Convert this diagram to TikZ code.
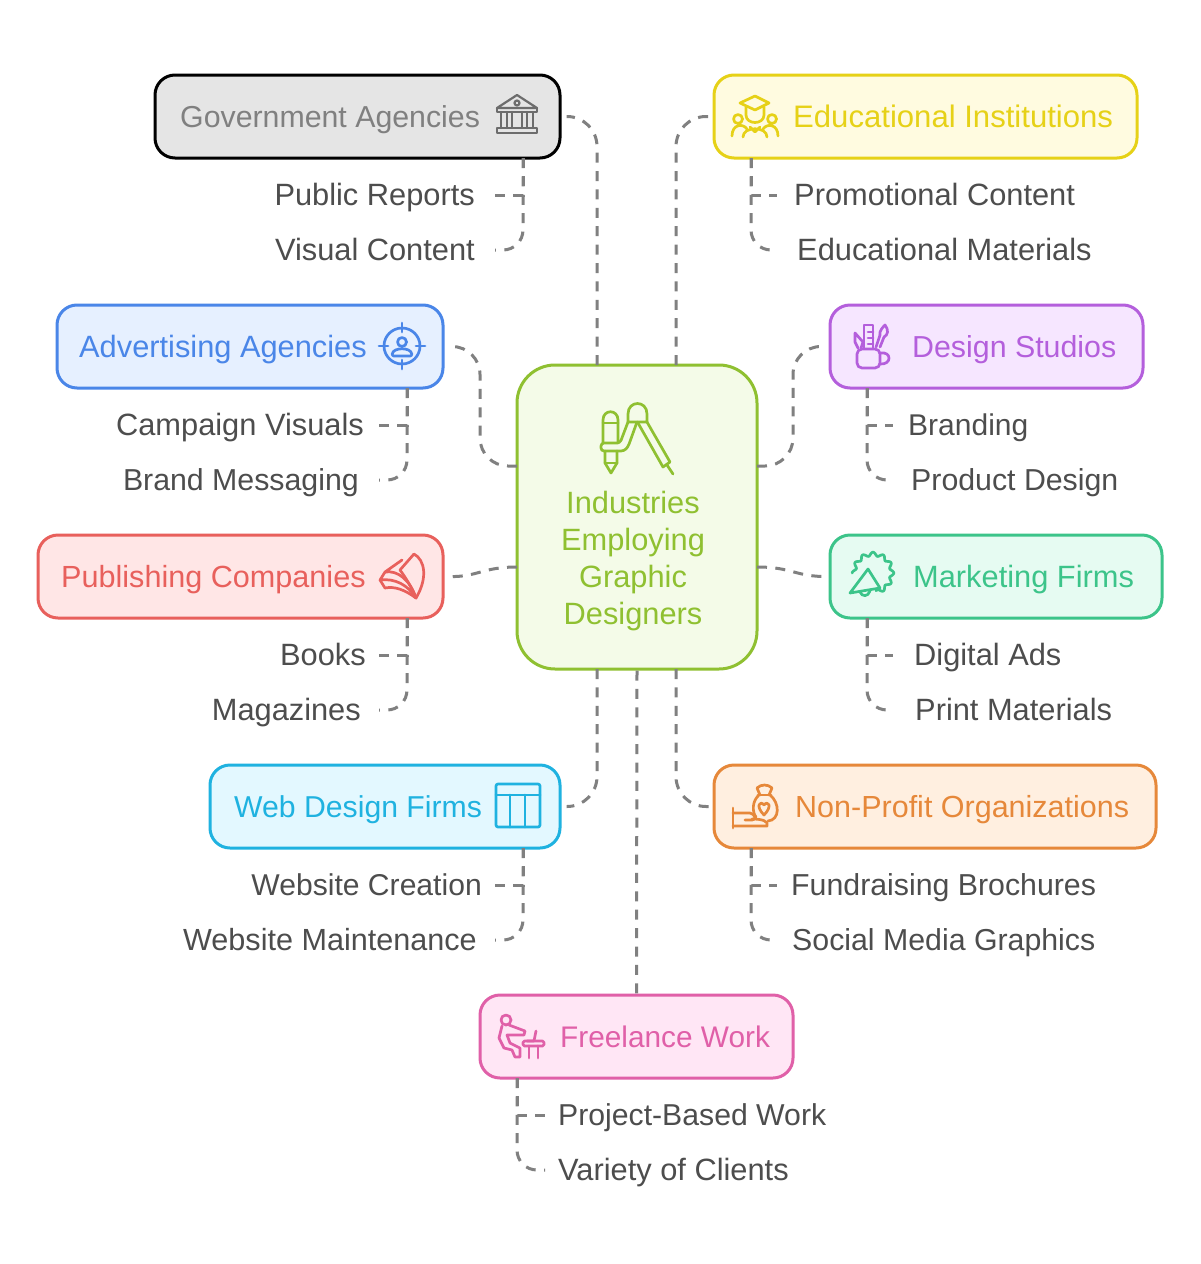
\documentclass[tikz,border=0pt]{standalone}
\usepackage{fontspec}
\setmainfont{Liberation Sans}
\definecolor{linkgrey}{HTML}{808080}
\definecolor{leafgrey}{HTML}{4D4D4D}
\definecolor{hubline}{HTML}{8FC031}
\definecolor{hubfill}{HTML}{F4FBE8}
\definecolor{govline}{HTML}{000000}
\definecolor{govfill}{HTML}{E5E5E5}
\definecolor{eduline}{HTML}{E6D117}
\definecolor{edufill}{HTML}{FFFBE0}
\definecolor{advline}{HTML}{4A86E8}
\definecolor{advfill}{HTML}{E6F0FF}
\definecolor{desline}{HTML}{B45FDC}
\definecolor{desfill}{HTML}{F6E6FF}
\definecolor{publine}{HTML}{E8605C}
\definecolor{pubfill}{HTML}{FFE6E6}
\definecolor{mktline}{HTML}{3CC48A}
\definecolor{mktfill}{HTML}{E6FBF2}
\definecolor{webline}{HTML}{1FB2E0}
\definecolor{webfill}{HTML}{E3F8FF}
\definecolor{nplline}{HTML}{E6883A}
\definecolor{nplfill}{HTML}{FFEFE0}
\definecolor{freline}{HTML}{E060A8}
\definecolor{frefill}{HTML}{FFE6F5}
\tikzset{
  catbox/.style={draw=#1line,fill=#1fill,line width=3pt,rounded corners=20pt,minimum height=83pt,inner sep=0pt},
  cattext/.style={anchor=base west,inner sep=0pt,text=#1line,font=\fontsize{30.8}{36}\selectfont},
  leaftext/.style={inner sep=0pt,text=leafgrey,text height=23pt,text depth=3pt,font=\fontsize{30.8}{36}\selectfont},
  fitsize/.style={font=\fontsize{#1}{36}\selectfont},
  link/.style={draw=linkgrey,line width=3pt,dash pattern=on 10pt off 8.4pt},
  iconpen/.style={draw=#1line,line width=2.7pt,line cap=round,line join=round},
}
\begin{document}
\begin{tikzpicture}[x=1pt,y=-1pt]
\useasboundingbox (0,0) rectangle (1200,1264);
\fill[white] (0,0) rectangle (1200,1264);
% boxes
\node[catbox=hub,minimum width=240pt,minimum height=304pt,rounded corners=38pt] (hub) at (637,517) {};
\node[catbox=gov,minimum width=405pt] (gov) at (357.5,116.5) {};
\node[catbox=edu,minimum width=423pt] (edu) at (925.5,116.5) {};
\node[catbox=adv,minimum width=386pt] (adv) at (250,346.5) {};
\node[catbox=des,minimum width=313pt] (des) at (986.5,346.5) {};
\node[catbox=pub,minimum width=405pt] (pub) at (240.5,576.5) {};
\node[catbox=mkt,minimum width=332pt] (mkt) at (996,576.5) {};
\node[catbox=web,minimum width=350pt] (web) at (385,806.5) {};
\node[catbox=npl,minimum width=442pt] (npl) at (935,806.5) {};
\node[catbox=fre,minimum width=313pt] (fre) at (636.5,1036.5) {};
% box texts
\node[cattext=gov,text=linkgrey,fitsize=30.3] (govtext) at (180,127) {Government Agencies};
\node[cattext=edu,fitsize=31.1] (edutext) at (793,127) {Educational Institutions};
\node[cattext=adv] (advtext) at (79,357) {Advertising Agencies};
\node[cattext=des,fitsize=30.35] (destext) at (912,357) {Design Studios};
\node[cattext=pub,fitsize=30.6] (pubtext) at (61,587) {Publishing Companies};
\node[cattext=mkt] (mkttext) at (913,587) {Marketing Firms};
\node[cattext=web,fitsize=30.2] (webtext) at (234,817) {Web Design Firms};
\node[cattext=npl,fitsize=30.5] (npltext) at (795,817) {Non-Profit Organizations};
\node[cattext=fre,fitsize=29.8] (fretext) at (560,1047) {Freelance Work};
\node[anchor=north,inner sep=0pt,text=hubline,align=center,font=\fontsize{30.8}{37}\selectfont] (hubtext) at (633,491) {Industries\\Employing\\Graphic\\Designers};
% leaves
\node[leaftext,anchor=east] (reports) at (475,195) {Public Reports};
\node[leaftext,anchor=east] (visual) at (475,250) {Visual Content};
\node[leaftext,anchor=west] (promo) at (794,195) {Promotional Content};
\node[leaftext,anchor=west] (materials) at (797,250) {Educational Materials};
\node[leaftext,anchor=east] (campaign) at (364,425) {Campaign Visuals};
\node[leaftext,anchor=east,fitsize=30.3] (message) at (359,480) {Brand Messaging};
\node[leaftext,anchor=west,fitsize=30] (branding) at (908,425) {Branding};
\node[leaftext,anchor=west,fitsize=30.3] (product) at (911,480) {Product Design};
\node[leaftext,anchor=east] (books) at (366,655) {Books};
\node[leaftext,anchor=east] (magazines) at (361,710) {Magazines};
\node[leaftext,anchor=west] (digital) at (914,655) {Digital Ads};
\node[leaftext,anchor=west] (print) at (915,710) {Print Materials};
\node[leaftext,anchor=east,fitsize=30.1] (creation) at (482,885) {Website Creation};
\node[leaftext,anchor=east,fitsize=30.6] (upkeep) at (477,940) {Website Maintenance};
\node[leaftext,anchor=west,fitsize=30.3] (fund) at (791,885) {Fundraising Brochures};
\node[leaftext,anchor=west,fitsize=30.3] (social) at (792,940) {Social Media Graphics};
\node[leaftext,anchor=west,fitsize=30.2] (project) at (558,1115) {Project-Based Work};
\node[leaftext,anchor=west] (clients) at (558,1170) {Variety of Clients};
% hub ports
\coordinate (hubnl) at (597,365);
\coordinate (hubnr) at (676,365);
\coordinate (hubsl) at (597,669);
\coordinate (hubsr) at (676,669);
\coordinate (hubwu) at (517,466);
\coordinate (hubeu) at (757,466);
\coordinate (hubwm) at (517,567);
\coordinate (hubem) at (757,567);
% hub to box
\draw[link,rounded corners=30pt,shorten >=5pt] (hubnl) |- (gov.east);
\draw[link,rounded corners=30pt,shorten >=4pt] (hubnr) |- (edu.west);
\draw[link,rounded corners=30pt,shorten >=5pt] (hubsl) |- (web.east);
\draw[link,rounded corners=30pt,shorten >=4pt] (hubsr) |- (npl.west);
\draw[link,rounded corners=28pt,shorten >=9pt] (hubwu) -- ++(-37,0) |- (adv.east);
\draw[link,rounded corners=28pt,shorten >=8pt] (hubeu) -- ++(36,0) |- (des.west);
\draw[link,shorten >=5pt] (hubwm) .. controls (482,567) and (478,577) .. (pub.east);
\draw[link] (hubem) .. controls (793,567) and (795,577) .. (mkt.west);
\draw[link] (hub.south) -- (fre.north);
% box to leaves
\foreach \drop/\tip/\one/\two/\side in {523/495/reports/visual/east,751/777/promo/materials/west,
  407/379/campaign/message/east,867/893/branding/product/west,407/379/books/magazines/east,
  867/893/digital/print/west,523/495/creation/upkeep/east,751/777/fund/social/west,517/545/project/clients/west} {
  \coordinate (dropx) at (\drop,0);
  \coordinate (tipx) at (\tip,0);
  \path (\one.\side) ++(0,-37) coordinate (dropbase);
  \coordinate (droptop) at (dropx |- dropbase);
  \coordinate (tipone) at (tipx |- \one.\side);
  \coordinate (tiptwo) at (tipx |- \two.\side);
  \draw[link] (droptop) |- (tipone);
  \draw[link,rounded corners=20pt] (droptop) |- (tiptwo);
}
% government icon
\begin{scope}[shift={(517,115)},iconpen=gov,draw=linkgrey!85!black,line width=2.2pt]
\draw (-20,-7) -- (0,-20) -- (20,-7) -- cycle;
\draw (0,-12) circle (2.5);
\draw (-20,-7) rectangle (20,-3);
\draw (-20,13) rectangle (20,18);
\foreach \x in {-16,-10,-5,5,10,16} {\draw (\x,-3) -- (\x,13);}
\end{scope}
% education icon
\begin{scope}[shift={(755,116)},iconpen=edu]
\draw (-15,-13) -- (0,-20) -- (14,-13) -- (0,-6) -- cycle;
\draw (-9,-9) -- (-9,-1) .. controls (-9,9) and (9,9) .. (9,-1) -- (9,-9);
\draw (-17,3) circle (4.5);
\draw (17,3) circle (4.5);
\draw (-23,20) .. controls (-23,8) and (-12,7) .. (-8,13);
\draw (23,20) .. controls (23,8) and (12,7) .. (8,13);
\draw (-12,21) .. controls (-12,10) and (12,10) .. (12,21);
\draw (-5,11) -- (0,16) -- (5,11);
\end{scope}
% advertising icon
\begin{scope}[shift={(402,346)},iconpen=adv]
\draw (0,0) circle (18);
\draw (0,-23) -- (0,-14);
\draw (0,23) -- (0,14);
\draw (-23,0) -- (-14,0);
\draw (23,0) -- (14,0);
\draw (0,-4) circle (4.5);
\draw[rounded corners=2pt] (-10,10) .. controls (-9,1) and (9,1) .. (10,10) -- cycle;
\end{scope}
% design studio icon
\begin{scope}[iconpen=des]
\draw[rounded corners=5pt] (857,349) -- (880,349) -- (880,368) -- (857,368) -- cycle;
\draw (880,353) .. controls (892,351) and (892,365) .. (880,364);
\draw (864,348) -- (864,325) -- (873,325) -- (873,348);
\draw (868,332) -- (873,332) (868,338) -- (873,338) (868,344) -- (873,344);
\draw (855,333) -- (863,342) -- (861,348) (855,333) -- (855,342) -- (858,348);
\draw (876,347) -- (880,335) (880,347) -- (884,337);
\draw (880,335) .. controls (879,331) and (883,327) .. (885,325) .. controls (889,330) and (888,335) .. (884,337);
\end{scope}
% publishing icon
\begin{scope}[iconpen=pub]
\draw (414,554) .. controls (425,560) and (428,578) .. (416,598);
\draw (414,554) -- (400,570) .. controls (406,578) and (412,588) .. (416,598);
\draw (402,560) -- (385,572) .. controls (398,570) and (410,580) .. (416,598);
\draw (385,572) -- (380,580) .. controls (395,578) and (408,585) .. (416,598);
\draw (380,580) -- (385,588) .. controls (395,586) and (405,590) .. (416,598);
\end{scope}
% marketing icon
\begin{scope}[iconpen=mkt]
\draw[shift={(873,573)}] plot[smooth,samples=130,domain=180:440] ({(19+1.8*cos(12*\x))*cos(\x)},{(19+1.8*cos(12*\x))*sin(\x)});
\draw (868,569) -- (880,588) -- (850,593) -- cycle;
\draw (860,592) .. controls (862,597) and (868,597) .. (870,591);
\end{scope}
% web icon
\begin{scope}[shift={(518,806)},iconpen=web]
\draw[rounded corners=2pt] (-22,-22) rectangle (22,21);
\draw (-22,-11) -- (22,-11);
\draw (-8,-11) -- (-8,21);
\draw (7,-11) -- (7,21);
\end{scope}
% non-profit icon
\begin{scope}[iconpen=npl]
\draw (733,808) -- (733,828);
\draw (733,813) -- (750,813) .. controls (755,814) and (757,820) .. (752,820) -- (745,820);
\draw (733,826) -- (767,826) .. controls (769,821) and (762,819) .. (752,819);
\draw (759,795) .. controls (752,801) and (752,812) .. (756,817);
\draw (770,795) .. controls (780,803) and (780,820) .. (768,821);
\draw (758,795) -- (771,795);
\draw (760,795) -- (757,788) .. controls (761,784) and (768,784) .. (772,788) -- (769,795);
\draw (764,805) .. controls (760,800) and (755,806) .. (764,815) .. controls (773,806) and (768,800) .. (764,805);
\end{scope}
% freelance icon
\begin{scope}[iconpen=fre]
\draw (506,1020) circle (5);
\draw (502,1026) -- (499,1038) -- (504,1048) -- (512,1050) -- (515,1057) -- (520,1057) -- (520,1048) -- (510,1043) -- (507,1035) -- (524,1035) -- (525,1031) -- (509,1025);
\draw[rounded corners=1.5pt] (523,1041) rectangle (544,1046);
\draw (529,1046) -- (529,1058) (538,1046) -- (538,1058);
\draw (536,1031) -- (534,1041) -- (527,1041);
\end{scope}
% hub icon
\begin{scope}[iconpen=hub]
\draw (603,443) -- (603,420) .. controls (603,409) and (618,409) .. (618,420) -- (618,443);
\draw (603,423) -- (618,423);
\draw (605,451) -- (605,463) -- (611,473) -- (617,463) -- (617,451);
\draw (605,463) -- (617,463);
\draw[rounded corners=3pt] (628,422) -- (620,443) -- (601,443) -- (601,451) -- (624,451) -- (628,447) -- (637,422);
\draw (628,422) -- (628,414) .. controls (628,400) and (647,400) .. (647,414) -- (647,422) -- cycle;
\draw (638,423) -- (663,467) -- (670,462) -- (647,422);
\draw (667,465) -- (673,474);
\end{scope}
\end{tikzpicture}
\end{document}
